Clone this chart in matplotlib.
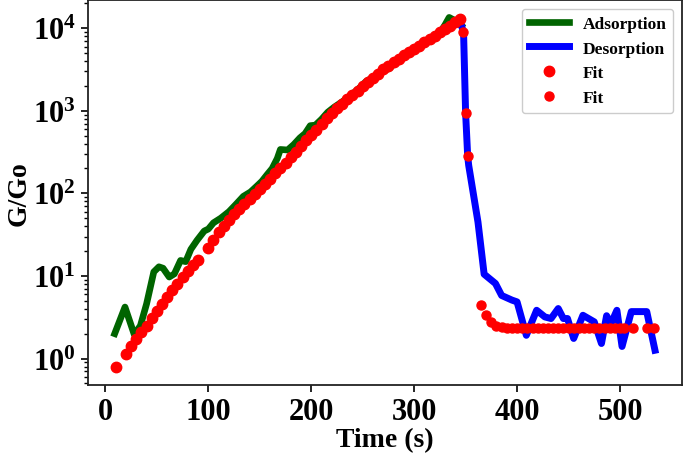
import numpy as np
import matplotlib
matplotlib.use('Agg')
import matplotlib.pyplot as plt

# 글꼴 설정 (Times 계열 굵은 글씨)
plt.rcParams['font.family'] = ['Liberation Serif', 'DejaVu Serif']
plt.rcParams['font.weight'] = 'bold'
plt.rcParams['mathtext.fontset'] = 'custom'
plt.rcParams['mathtext.rm'] = 'Liberation Serif:bold'
plt.rcParams['mathtext.bf'] = 'Liberation Serif:bold'
plt.rcParams['mathtext.it'] = 'Liberation Serif:bold'
plt.rcParams['mathtext.default'] = 'bf'

# 흡착 측정값
ads_t = [9, 19, 28, 34, 40, 47, 52, 56, 62, 67, 73, 78, 83, 89, 96, 100, 105, 112,
         120, 127, 134, 141, 147, 152, 157, 162, 167, 170, 177, 183, 189, 194, 199,
         204, 210, 216, 222, 229, 235, 240, 247, 253, 259, 265, 270, 276, 282, 288,
         295, 300, 306, 312, 318, 324, 330, 334, 340, 346]
ads_g = [2.0, 4.2, 1.95, 2.5, 4.6, 11.2, 12.9, 12.4, 9.7, 10.6, 15.4, 14.9, 21, 27,
         35, 37, 44, 50, 60, 74, 92, 104, 122, 140, 168, 200, 265, 340, 335, 390,
         470, 530, 660, 670, 790, 960, 1100, 1260, 1420, 1600, 1900, 2250, 2500,
         2800, 3050, 3250, 3850, 4350, 5000, 5500, 6100, 6700, 7200, 8400, 11000,
         13500, 12300, 10700]

# 탈착 측정값
des_t = [346, 348, 350, 352, 353, 362, 368, 379, 385, 395, 400, 409, 419, 427, 433,
         440, 445, 449, 455, 464, 475, 482, 487, 491, 497, 502, 511, 526, 534]
des_g = [10700, 8900, 935, 283, 218, 45, 10.5, 8.1, 5.8, 5.1, 4.85, 1.91, 3.84, 3.19,
         3.05, 4.03, 3.05, 3.05, 1.75, 3.34, 2.78, 1.52, 3.3, 2.6, 3.84, 1.4, 3.7,
         3.7, 1.26]

# 흡착 fit
fit1_t = [10, 20, 25, 30, 35, 40, 45, 50, 55, 60, 65, 70, 75, 80, 85, 90,
          100, 105, 110, 115, 120, 125, 130, 135, 140, 145, 150, 155, 160, 165,
          170, 175, 180, 185, 190, 195, 200, 205, 210, 215, 220, 225, 230, 235,
          240, 245, 250, 255, 260, 265, 270, 275, 280, 285, 290, 295, 300, 305,
          310, 315, 320, 325, 330, 335, 340, 345]
fit1_g = [0.78, 1.12, 1.40, 1.70, 2.09, 2.51, 3.09, 3.76, 4.57, 5.56, 6.68, 8.04,
          9.77, 11.6, 13.5, 15.5, 21.9, 27.5, 33.9, 40.7, 47.9, 56.2, 64.6, 74.1,
          85.1, 97.7, 112, 129, 151, 174, 204, 234, 275, 316, 372, 437, 513, 589,
          692, 813, 933, 1072, 1202, 1380, 1549, 1738, 1995, 2239, 2512, 2818,
          3162, 3467, 3890, 4266, 4677, 5129, 5623, 6166, 6761, 7413, 8128, 8913,
          9772, 10715, 11749, 12882]

# 탈착 fit
fit2_t = [347, 350, 352, 365, 370, 375, 380, 385, 390, 395, 400, 405, 410, 415,
          420, 425, 430, 435, 440, 445, 450, 455, 460, 465, 470, 475, 480, 485,
          490, 495, 500, 504, 513, 526, 533]
fit2_g = [8900, 935, 283, 4.5, 3.34, 2.78, 2.5, 2.4, 2.36, 2.35, 2.35, 2.35, 2.35,
          2.35, 2.35, 2.35, 2.35, 2.35, 2.35, 2.35, 2.35, 2.35, 2.35, 2.35, 2.35,
          2.35, 2.35, 2.35, 2.35, 2.35, 2.35, 2.35, 2.35, 2.35, 2.35]

fig = plt.figure(figsize=(6.85, 4.6), dpi=100)
ax = fig.add_axes([0.128, 0.161, 0.8676, 0.837])

ax.plot(ads_t, ads_g, color='darkgreen', lw=4.8, label='Adsorption')
ax.plot(des_t, des_g, color='blue', lw=5, label='Desorption')
ax.plot(fit1_t, fit1_g, 'o', color='red', ms=7.5, label='Fit')
ax.plot(fit2_t, fit2_g, 'o', color='red', ms=6.5, label='Fit')

ax.set_yscale('log')
ax.set_xticks([0, 100, 200, 300, 400, 500])
ax.tick_params(axis='both', which='major', labelsize=22, length=5, width=1.2)
ax.tick_params(axis='y', which='minor', length=3, width=1)
for s in ax.spines.values():
    s.set_linewidth(1.3)
    s.set_color('#222222')

ax.set_xlabel('Time (s)', fontsize=20, fontweight='bold', labelpad=1)
ax.set_ylabel('G/Go', fontsize=20, fontweight='bold', labelpad=1)

ax.legend(loc='upper right', handlelength=2.3, framealpha=1,
          edgecolor='#cccccc', prop={'weight': 'bold', 'size': 12.5})

plt.savefig('out.png', dpi=100)
